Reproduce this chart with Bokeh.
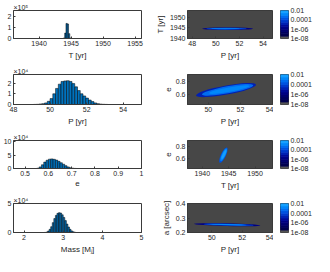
from bokeh.plotting import figure
from bokeh.layouts import gridplot
from bokeh.models import (FixedTicker, CustomJSTickFormatter, Range1d, ColumnDataSource, AllLabels)
from bokeh.transform import log_cmap
from bokeh.embed import file_html
from bokeh.resources import INLINE

# ---------------- marginal histograms (counts in units of the axis multiplier) ----------------
T_bins = [1943.8, 1944.0, 1944.2, 1944.4, 1944.6, 1944.8]          # left edges [yr]
T_counts = [0.05, 0.5, 1.4, 1.35, 0.45, 0.05]                       # x 1e5
T_width = 0.2

P_bins = [49.10, 49.25, 49.40, 49.55, 49.70, 49.85, 50.00, 50.15, 50.30, 50.45,
          50.60, 50.75, 50.90, 51.05, 51.20, 51.35, 51.50, 51.65, 51.80, 51.95,
          52.10, 52.25, 52.40, 52.55, 52.70, 52.85, 53.00]          # left edges [yr]
P_counts = [0.01, 0.02, 0.05, 0.08, 0.15, 0.30, 0.55, 1.00, 1.50, 1.90,
            2.15, 2.20, 2.22, 2.15, 1.95, 1.65, 1.30, 1.00, 0.80, 0.60,
            0.42, 0.27, 0.15, 0.08, 0.04, 0.02, 0.01]               # x 1e4
P_width = 0.15

e_bins = [0.55, 0.56, 0.57, 0.58, 0.59, 0.60, 0.61, 0.62, 0.63, 0.64,
          0.65, 0.66, 0.67, 0.68, 0.69, 0.70, 0.71]
e_counts = [0.10, 0.60, 1.40, 2.40, 3.10, 3.50, 3.60, 3.45, 3.15, 2.70,
            2.15, 1.60, 1.05, 0.60, 0.30, 0.12, 0.03]               # x 1e4
e_width = 0.01

M_bins = [2.52, 2.56, 2.60, 2.64, 2.68, 2.72, 2.76, 2.80, 2.84, 2.88,
          2.92, 2.96, 3.00, 3.04, 3.08, 3.12, 3.16, 3.20, 3.24, 3.28]
M_counts = [0.02, 0.08, 0.25, 0.55, 1.00, 1.70, 2.40, 2.95, 3.30, 3.42,
            3.35, 3.05, 2.60, 2.05, 1.45, 0.95, 0.55, 0.28, 0.12, 0.04]  # x 1e4
M_width = 0.04

# ---------------- 2-D density regions (nested contour levels) ----------------
TP_P = [51.0, 50.9, 50.8]
TP_T = [1944.6, 1944.6, 1944.6]
TP_w = [4.3, 3.4, 2.4]
TP_h = [1.25, 0.8, 0.45]
TP_ang = [0.0, 0.0, 0.0]
TP_level = [1e-6, 1e-4, 2e-3]

eP_P = [51.1, 51.2, 51.3]
eP_e = [0.668, 0.672, 0.676]
eP_w = [3.8, 3.25, 2.55]
eP_h = [0.14, 0.11, 0.07]
eP_ang = [0.18, 0.18, 0.18]
eP_level = [2e-5, 4e-4, 3e-3]

eT_T = [1944.0, 1944.05, 1944.1]
eT_e = [0.66, 0.665, 0.67]
eT_w = [3.2, 2.6, 1.9]
eT_h = [0.08, 0.06, 0.04]
eT_ang = [1.13, 1.13, 1.13]
eT_level = [1e-4, 1e-3, 5e-3]

aP_P = [51.0, 51.1, 51.1]
aP_a = [0.254, 0.254, 0.254]
aP_w = [4.4, 3.3, 2.4]
aP_h = [0.018, 0.013, 0.008]
aP_ang = [-0.024, -0.024, -0.024]
aP_level = [1e-6, 1e-4, 2e-3]

# ---------------- ticks / labels ----------------
ticks_T_hist = [1940, 1945, 1950, 1955]
ticks_P_hist = [48, 50, 52, 54]
ticks_e_hist = [0.5, 0.6, 0.7, 0.8, 0.9, 1.0]
ticks_M_hist = [2, 3, 4, 5]
yticks_T_hist = [0, 1, 2]
yticks_P_hist = [0, 1, 2]
yticks_e_hist = [0, 5, 10]
yticks_M_hist = [0, 5]
mult_labels = ["\u00d710\u2075", "\u00d710\u2074", "\u00d710\u2074", "\u00d710\u2074"]

ticks_P_2d = [48, 50, 52, 54]
ticks_T_2d = [1940, 1945, 1950]
ticks_e_2d = [0.6, 0.8]
ticks_a_2d = [0.2, 0.3, 0.4]
cbar_ticks = [1e-8, 1e-6, 1e-4, 1e-2]
cbar_labels = ["1e-08", "1e-06", "0.0001", "0.01"]

PALETTE = ['#555555', '#00004d', '#00005c', '#00006e', '#000082', '#000a99',
           '#0020b3', '#0038cc', '#0052e0', '#006cf0', '#0088fa', '#14a0ff']
CB_LOW, CB_HIGH = 1e-8, 1e-2

FONT = "Liberation Sans"
TXT = "#262626"
LINE = "#3a3a3a"
BAR = "#0072BD"
BG2D = "#474747"

num_fmt = CustomJSTickFormatter(code="return String(Math.round(tick*1000)/1000);")
cbar_fmt = CustomJSTickFormatter(args=dict(cticks=cbar_ticks, clabels=cbar_labels), code="""
    for (let i = 0; i < cticks.length; i++) {
        if (Math.abs(Math.log10(tick) - Math.log10(cticks[i])) < 0.01) return clabels[i];
    }
    return '';""")


def style_axis(ax):
    ax.major_tick_in = 2
    ax.major_tick_out = 0
    ax.minor_tick_line_color = None
    ax.axis_line_color = LINE
    ax.major_tick_line_color = LINE
    ax.major_label_text_font = FONT
    ax.major_label_text_font_size = "7px"
    ax.major_label_text_color = TXT
    ax.major_label_standoff = 2
    ax.axis_label_text_font = FONT
    ax.axis_label_text_font_size = "8px"
    ax.axis_label_text_font_style = "normal"
    ax.axis_label_text_color = TXT
    ax.axis_label_standoff = 2


def style(p, xticks, yticks):
    p.xaxis.ticker = FixedTicker(ticks=xticks)
    p.yaxis.ticker = FixedTicker(ticks=yticks)
    for ax in (p.xaxis[0], p.yaxis[0]):
        ax.formatter = num_fmt
        style_axis(ax)
    p.grid.visible = False
    p.outline_line_color = LINE
    p.outline_line_width = 1


rows = [  # (height, top, bottom)
    (62, 10, 22),
    (66, 12, 23),
    (64, 12, 23),
    (64, 11, 22),
]

hist_specs = [
    (T_bins, T_counts, T_width, (1936, 1956), (0, 2.6), ticks_T_hist, yticks_T_hist, "T [yr]"),
    (P_bins, P_counts, P_width, (48, 55), (0, 2.8), ticks_P_hist, yticks_P_hist, "P [yr]"),
    (e_bins, e_counts, e_width, (0.45, 1.0), (0, 10.5), ticks_e_hist, yticks_e_hist, "e"),
    (M_bins, M_counts, M_width, (1.73, 5.0), (0, 5), ticks_M_hist, yticks_M_hist, "Mass [M\u2c7c]"),
]

dens_specs = [
    (TP_P, TP_T, TP_w, TP_h, TP_ang, TP_level, (47.6, 54.8), (1939.8, 1953.5), ticks_P_2d, ticks_T_2d, "P [yr]", "T [yr]"),
    (eP_P, eP_e, eP_w, eP_h, eP_ang, eP_level, (48.7, 54.0), (0.445, 0.91), ticks_P_2d, ticks_e_2d, "P [yr]", "e"),
    (eT_T, eT_e, eT_w, eT_h, eT_ang, eT_level, (1937.2, 1953.3), (0.446, 0.894), ticks_T_2d, ticks_e_2d, "T [yr]", "e"),
    (aP_P, aP_a, aP_w, aP_h, aP_ang, aP_level, (48.4, 54.0), (0.2, 0.4), ticks_P_2d, ticks_a_2d, "P [yr]", "a [arcsec]"),
]

# colour-bar bands: one band per palette entry, evenly spaced in log10
n = len(PALETTE)
lo_exp, hi_exp = -8.0, -2.0
cb_bottom = [10 ** (lo_exp + (hi_exp - lo_exp) * k / n) for k in range(n)]
cb_top = [10 ** (lo_exp + (hi_exp - lo_exp) * (k + 1) / n) for k in range(n)]

grid = []
for i in range(4):
    H, top, bot = rows[i]

    # --- histogram ---
    bins, counts, w, xr, yr, xt, yt, xlab = hist_specs[i]
    pl = figure(width=152, height=H, x_range=Range1d(*xr), y_range=Range1d(*yr),
                output_backend="svg", toolbar_location=None, title=mult_labels[i],
                min_border_left=9, min_border_right=11, min_border_top=top, min_border_bottom=bot)
    pl.quad(left=bins, right=[b + w for b in bins], bottom=0, top=counts,
            fill_color=BAR, line_color="black", line_width=0.5)
    style(pl, xt, yt)
    pl.xaxis.axis_label = xlab
    pl.title.align = "left"
    pl.title.text_font = FONT
    pl.title.text_font_size = "7px"
    pl.title.text_font_style = "normal"
    pl.title.text_color = TXT
    pl.title.standoff = 0
    pl.title.offset = 0

    # --- 2-D density ---
    cx, cy, ew, eh, ang, lev, xr2, yr2, xt2, yt2, xl2, yl2 = dens_specs[i]
    pr = figure(width=121, height=H, x_range=Range1d(*xr2), y_range=Range1d(*yr2),
                output_backend="svg", toolbar_location=None, title=None,
                min_border_left=30, min_border_right=1, min_border_top=top, min_border_bottom=bot,
                background_fill_color=BG2D)
    src = ColumnDataSource(dict(x=cx, y=cy, w=ew, h=eh, a=ang, level=lev))
    pr.ellipse(x="x", y="y", width="w", height="h", angle="a", source=src,
               fill_color=log_cmap("level", PALETTE, CB_LOW, CB_HIGH), line_color=None)
    style(pr, xt2, yt2)
    pr.xaxis.axis_label = xl2
    pr.yaxis.axis_label = yl2

    # --- colour bar ---
    pc = figure(width=41, height=H, x_range=Range1d(0, 1), y_range=Range1d(CB_LOW, CB_HIGH),
                y_axis_type="log", y_axis_location="right",
                output_backend="svg", toolbar_location=None, title=None,
                min_border_left=7, min_border_right=24, min_border_top=top, min_border_bottom=bot)
    pc.quad(left=0, right=1, bottom=cb_bottom, top=cb_top, fill_color=PALETTE,
            line_color=PALETTE, line_width=0.8)
    pc.xaxis.visible = False
    pc.grid.visible = False
    pc.outline_line_color = LINE
    pc.outline_line_width = 1
    ya = pc.yaxis[0]
    ya.ticker = FixedTicker(ticks=cbar_ticks)
    ya.formatter = cbar_fmt
    style_axis(ya)
    ya.major_tick_in = 0
    ya.axis_line_color = None
    ya.major_label_policy = AllLabels()
    ya.major_label_standoff = 2

    grid.append([pl, pr, pc])

layout = gridplot(grid, toolbar_location=None)

open("out.html", "w").write(file_html(layout, INLINE))
